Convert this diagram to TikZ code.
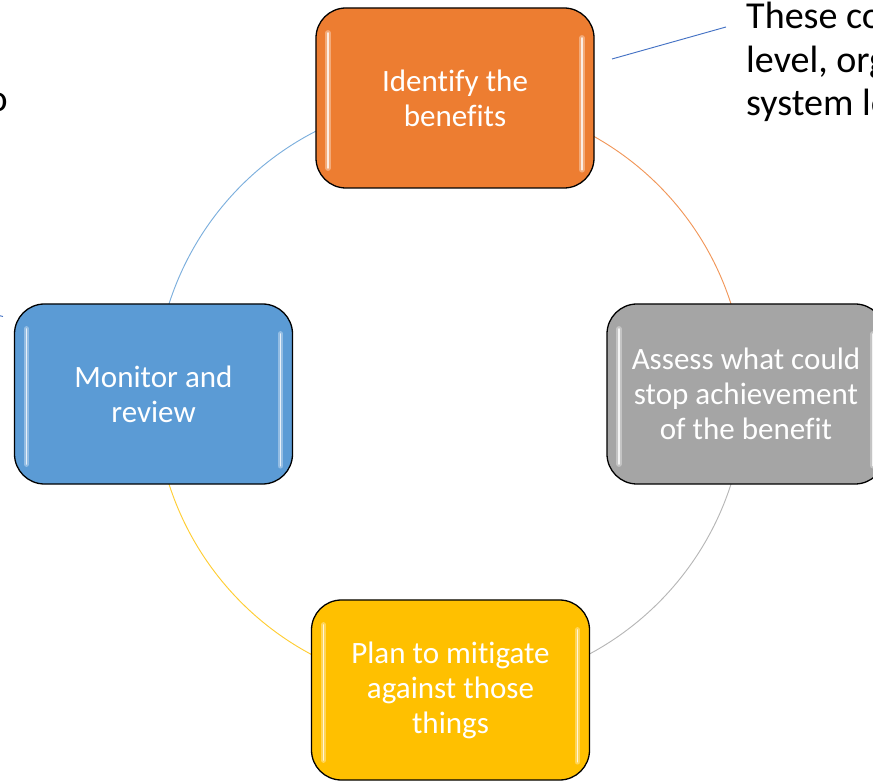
\documentclass[tikz,border=0pt]{standalone}
\usepackage{fontspec}
\setmainfont[Ligatures=NoCommon]{Carlito}
\usepackage{tikz}
\usetikzlibrary{calc,backgrounds}

\definecolor{stageor}{HTML}{ED7D31}
\definecolor{stagegr}{HTML}{A5A5A5}
\definecolor{stageye}{HTML}{FFC000}
\definecolor{stagebl}{HTML}{5B9BD5}
\definecolor{calloutbl}{HTML}{4472C4}

\begin{document}
\begin{tikzpicture}[x=0.03cm, y=0.03cm,
  stage/.style={draw=black, line width=1.1pt, rounded corners=0.9cm,
    minimum width=8.34cm, minimum height=5.4cm, align=center, text=white,
    font=\fontsize{26.5}{29.8}\selectfont,
    path picture={
      \draw[white, opacity=0.35, line width=5pt, line cap=round]
        ($(path picture bounding box.north west)+(0.36cm,-0.75cm)$) -- ($(path picture bounding box.south west)+(0.36cm,0.6cm)$)
        ($(path picture bounding box.north east)+(-0.36cm,-0.9cm)$) -- ($(path picture bounding box.south east)+(-0.36cm,0.55cm)$);
      \draw[white, opacity=0.8, line width=1.6pt, line cap=round]
        ($(path picture bounding box.north west)+(0.36cm,-0.75cm)$) -- ($(path picture bounding box.south west)+(0.36cm,0.6cm)$)
        ($(path picture bounding box.north east)+(-0.36cm,-0.9cm)$) -- ($(path picture bounding box.south east)+(-0.36cm,0.55cm)$);
    }},
  ring/.style={line width=0.8pt},
  note/.style={inner sep=0pt, align=left, font=\fontsize{32.5}{37}\selectfont}]

\useasboundingbox (0,0) rectangle (873,780);

% the four stages of the cycle
\node[stage, fill=stageor] (identify) at (455,682) {Identify the\\benefits};
\node[stage, fill=stagegr] (assess) at (746,386) {Assess what could\\stop achievement\\of the benefit};
\node[stage, fill=stageye] (plan) at (450.5,90) {Plan to mitigate\\against those\\things};
\node[stage, fill=stagebl] (monitor) at (153.5,386) {Monitor and\\review};

% ring behind the boxes
\coordinate (hub) at (450,386);
\begin{scope}[on background layer]
\draw[ring, stageor!80] (hub) ++(90:295) arc[start angle=90, end angle=0, radius=295];
\draw[ring, stagegr!80] (hub) ++(0:295) arc[start angle=0, end angle=-90, radius=295];
\draw[ring, stageye!80] (hub) ++(-90:295) arc[start angle=-90, end angle=-180, radius=295];
\draw[ring, stagebl!80] (hub) ++(180:295) arc[start angle=180, end angle=90, radius=295];
\end{scope}

% callouts
\node[note, anchor=north west] (levels) at (746,778) {These co\\level, org\\system le};
\coordinate (levelstip) at (612,721);
\coordinate (levelsend) at (726,753);
\draw[calloutbl, line width=0.8pt] (levelstip) -- (levelsend);

\node[note, anchor=base east] (leftnote) at (8,668) {o};
\coordinate (lefttip) at (3,463.5);
\draw[calloutbl, line width=0.8pt] (-12,467) -- (lefttip);

\end{tikzpicture}
\end{document}
